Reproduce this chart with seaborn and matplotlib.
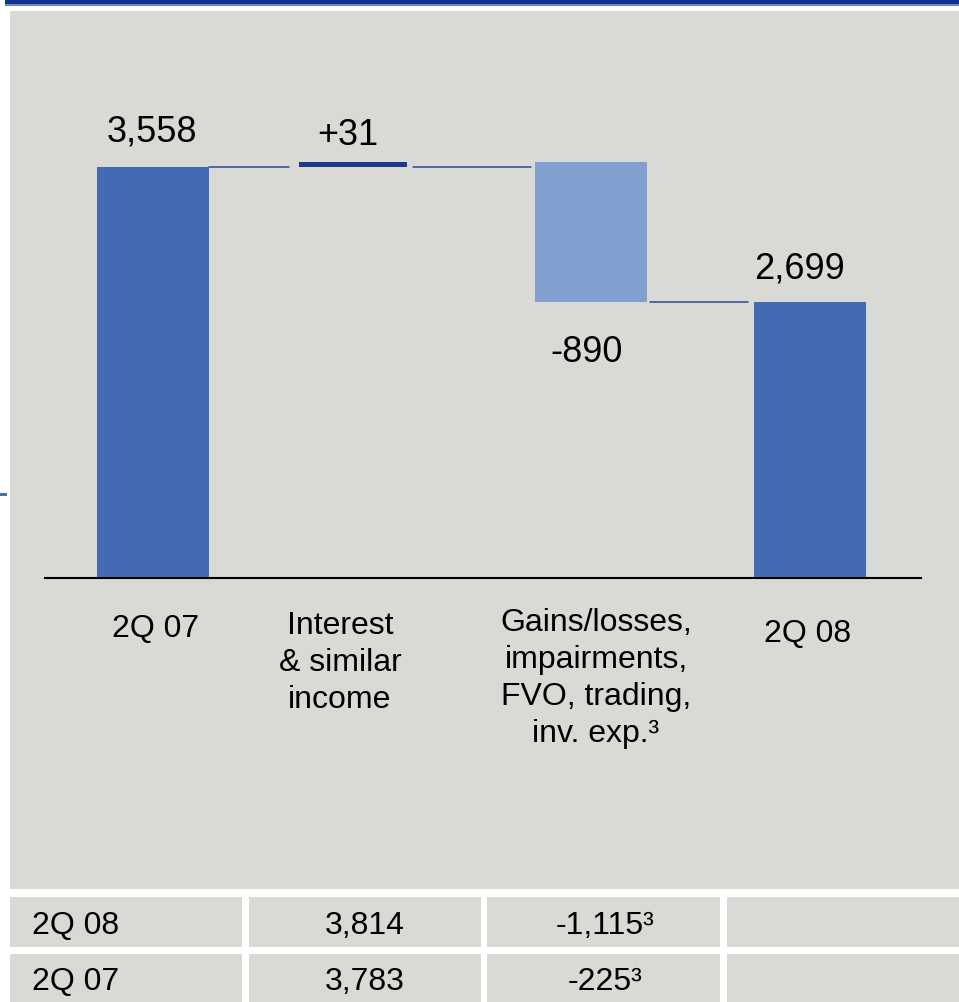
import matplotlib
matplotlib.use("Agg")
import matplotlib.pyplot as plt
import matplotlib.transforms as mtransforms
from matplotlib.patches import Rectangle
import seaborn as sns
import pandas as pd

# ---------------- data ----------------
categories = ["2Q 07", "Interest\n& similar\nincome",
              "Gains/losses,\nimpairments,\nFVO, trading,\ninv. exp.\u00b3", "2Q 08"]
start_total = 3558
changes = [31, -890]
end_total = 2699
value_labels = ["3,558", "+31", "-890", "2,699"]

table_rows = ["2Q 08", "2Q 07"]
table_interest = ["3,814", "3,783"]
table_gains = ["-1,115\u00b3", "-225\u00b3"]

# ---------------- style ----------------
sns.set_theme(style="white")
plt.rcParams["font.family"] = ["Liberation Sans", "DejaVu Sans"]

W, H = 959, 1002
fig = plt.figure(figsize=(W / 100, H / 100), dpi=100, facecolor="white")

GRAY = "#d9d9d5"
BLUE = "#436bb4"
LIGHT = "#819fcf"
NAVY = "#1c3a8c"
CONN = "#2b4791"


def px_rect(x0, y0, x1, y1, color, z=-2):
    fig.patches.append(Rectangle((x0 / W, 1 - y1 / H), (x1 - x0) / W, (y1 - y0) / H,
                                 transform=fig.transFigure, facecolor=color,
                                 edgecolor="none", zorder=z))


# background panel & decorations
px_rect(10, 11, 959, 889, GRAY)
px_rect(5, 0, 959, 4, "#13318a", -1)
px_rect(5, 4, 959, 5.5, "#6d87c0", -1)
px_rect(0, 493, 7, 496, "#4a6db3", -1)

# table cells
col_edges = [(10, 242), (249, 481), (487, 720), (727, 959)]
row_edges = [(897, 947), (954, 1002)]
for (ry0, ry1) in row_edges:
    for (cx0, cx1) in col_edges:
        px_rect(cx0, ry0, cx1, ry1, GRAY)

for i, (ry0, ry1) in enumerate(row_edges):
    yc = 1 - ((ry0 + ry1) / 2 + 4) / H
    fig.text(32 / W, yc, table_rows[i], ha="left", va="center", fontsize=23, color="black")
    fig.text(365 / W, yc, table_interest[i], ha="center", va="center", fontsize=23, color="black")
    fig.text(605 / W, yc, table_gains[i], ha="center", va="center", fontsize=23, color="black")

# ---------------- waterfall axes ----------------
ax = fig.add_axes([45 / W, 1 - 578 / H, 876 / W, 518 / H])
ax.set_zorder(1)
ax.set_facecolor("none")
ax.patch.set_alpha(0)

keys = ["q07", "int", "gain", "q08"]
totals = pd.DataFrame({"cat": [keys[0], keys[3]], "val": [start_total, end_total]})
sns.barplot(data=totals, x="cat", y="val", order=keys, color=BLUE, saturation=1,
            width=0.511, ax=ax, linewidth=0)

# floating bars
x_int = 0.913
lvl1 = start_total + changes[0]
lvl2 = lvl1 + changes[1]
ax.bar([x_int], [changes[0]], bottom=[start_total], width=0.493, color=NAVY, linewidth=0)
ax.bar([2], [-changes[1]], bottom=[lvl2], width=0.511, color=LIGHT, linewidth=0)

# connectors
ax.plot([0.256, 0.621], [start_total, start_total], color=CONN, lw=1.1)
ax.plot([1.187, 1.726], [start_total, start_total], color=CONN, lw=1.1)
ax.plot([2.269, 2.717], [lvl2, lvl2], color=CONN, lw=1.1)

ax.set_xlim(-0.493, 3.507)
ax.set_ylim(958.5, 4230.8)
ax.set_xticks([])
ax.set_yticks([])
ax.set_xlabel("")
ax.set_ylabel("")
for s in ["top", "left", "right"]:
    ax.spines[s].set_visible(False)
ax.spines["bottom"].set_color("black")
ax.spines["bottom"].set_linewidth(1.5)

# value labels
label_specs = [
    (0, start_total, -1, 35),
    (x_int, lvl1, -5, 26),
    (2, lvl2, -4, -50),
    (3, end_total, -10, 33),
]
for (x, y, dx, dy), lab in zip(label_specs, value_labels):
    ax.annotate(lab, xy=(x, y), xytext=(dx, dy), textcoords="offset pixels",
                ha="center", va="center", fontsize=26, color="black")

# category labels
tr = mtransforms.blended_transform_factory(ax.transData, fig.transFigure)
cat_specs = [(0.01, 614), (0.854, 611), (2.023, 608), (2.99, 619)]
for (x, ytop), lab in zip(cat_specs, categories):
    ax.text(x, 1 - ytop / H, lab, transform=tr, ha="center", va="top",
            fontsize=23, color="black", linespacing=1.3, multialignment="center")

fig.savefig("out.png", dpi=100, facecolor="white")
